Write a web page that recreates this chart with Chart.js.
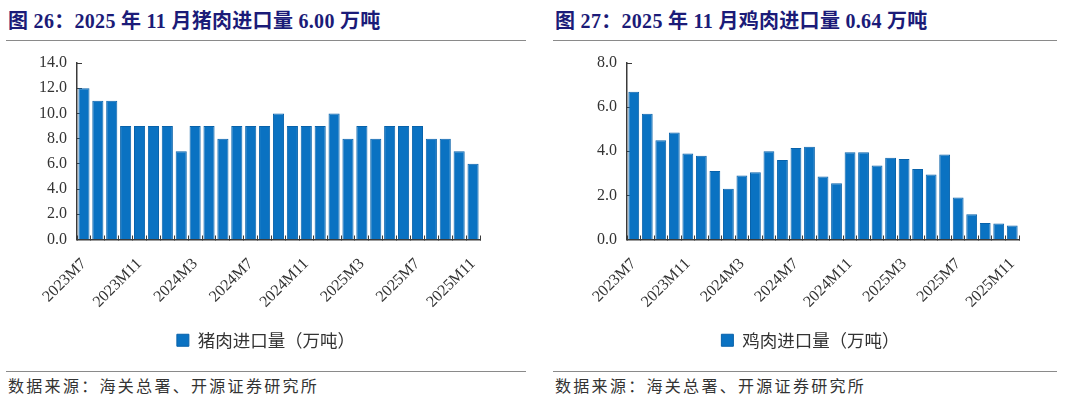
<!DOCTYPE html>
<html>
<head>
<meta charset="utf-8">
<script src="https://cdn.jsdelivr.net/npm/chart.js@4"></script>
<style>
  body { margin: 0; background: #fff; width: 1080px; height: 400px; position: relative; overflow: hidden; }
  .title { position: absolute; top: 5px; font-family: "Liberation Serif", "Noto Sans CJK SC", serif; font-weight: bold; font-size: 20px; letter-spacing: 0.3px; color: #1b1b78; white-space: nowrap; }
  .rule { position: absolute; height: 0; border-top: 1.5px solid #8a8a8a; }
  .src { position: absolute; top: 373px; font-family: "Noto Sans CJK SC", sans-serif; font-size: 16px; letter-spacing: 2.3px; color: #333; white-space: nowrap; }
  .box { position: absolute; top: 50px; height: 309px; }
</style>
</head>
<body>
<div class="title" style="left:8px">图 26：2025 年 11 月猪肉进口量 6.00 万吨</div>
<div class="title" style="left:555px">图 27：2025 年 11 月鸡肉进口量 0.64 万吨</div>
<div class="rule" style="left:6px; width:520px; top:40px"></div>
<div class="rule" style="left:553px; width:504px; top:40px"></div>
<div class="rule" style="left:6px; width:520px; top:371px"></div>
<div class="rule" style="left:553px; width:504px; top:371px"></div>
<div class="src" style="left:8px">数据来源：海关总署、开源证券研究所</div>
<div class="src" style="left:555px">数据来源：海关总署、开源证券研究所</div>
<div class="box" style="left:0px; width:530px"><canvas id="chartPork"></canvas></div>
<div class="box" style="left:548px; width:526px"><canvas id="chartChicken"></canvas></div>
<script>
// months 2023M7 .. 2025M11
const months = [
  "2023M7","2023M8","2023M9","2023M10","2023M11","2023M12",
  "2024M1","2024M2","2024M3","2024M4","2024M5","2024M6","2024M7","2024M8","2024M9","2024M10","2024M11","2024M12",
  "2025M1","2025M2","2025M3","2025M4","2025M5","2025M6","2025M7","2025M8","2025M9","2025M10","2025M11"
];
const porkImports = [12, 11, 11, 9, 9, 9, 9, 7, 9, 9, 8, 9, 9, 9, 10, 9, 9, 9, 10, 8, 9, 8, 9, 9, 9, 8, 8, 7, 6];
const chickenImports = [6.7, 5.7, 4.5, 4.85, 3.9, 3.8, 3.1, 2.3, 2.9, 3.05, 4.0, 3.6, 4.15, 4.2, 2.85, 2.55, 3.95, 3.95, 3.35, 3.7, 3.65, 3.2, 2.95, 3.85, 1.9, 1.15, 0.75, 0.72, 0.64];
const porkLabel = "猪肉进口量（万吨）";
const chickenLabel = "鸡肉进口量（万吨）";

const tickFont = { family: "Liberation Serif", size: 16 };
const axisColor = "#3a3a3a";

// nudge the legend sideways so it sits centred under the whole panel
const legendShift = {
  id: "legendShift",
  afterLayout(chart, args, opts) {
    const l = chart.legend;
    if (l && opts.dx) { l.left += opts.dx; l.right += opts.dx; }
  }
};

function makeChart(id, values, label, yMax, axisWidth, padRight, dx) {
  const ctx = document.getElementById(id).getContext("2d");
  return new Chart(ctx, {
    type: "bar",
    data: {
      labels: months,
      datasets: [{
        label: label,
        data: values,
        backgroundColor: "#0A72C2",
        borderColor: "#0862AA",
        borderWidth: 1,
        barPercentage: 0.8,
        categoryPercentage: 1.0
      }]
    },
    plugins: [legendShift],
    options: {
      responsive: true,
      maintainAspectRatio: false,
      animation: false,
      layout: { padding: { top: 13, right: padRight, left: 0, bottom: 0 } },
      scales: {
        x: {
          // tick marks point up into the plot, between the bars
          grid: { display: true, drawOnChartArea: false, drawTicks: true, tickLength: -4, color: axisColor, offset: true },
          border: { display: true, color: axisColor, width: 1.5 },
          ticks: {
            autoSkip: false,
            maxRotation: 45,
            minRotation: 45,
            color: "#333",
            font: tickFont,
            padding: 19,
            callback: function (val, idx) { return idx % 4 === 0 ? months[idx] : ""; }
          },
          afterFit: function (s) { s.height = 84; }
        },
        y: {
          min: 0,
          max: yMax,
          grid: { display: true, drawOnChartArea: false, drawTicks: true, tickLength: -5, color: axisColor },
          border: { display: true, color: axisColor, width: 1.5 },
          ticks: {
            stepSize: 2,
            color: "#333",
            font: tickFont,
            padding: 15,
            callback: function (v) { return v.toFixed(1); }
          },
          afterFit: function (s) { s.width = axisWidth; s.paddingTop = 0; s.paddingBottom = 0; }
        }
      },
      plugins: {
        legend: {
          position: "bottom",
          labels: {
            boxWidth: 12,
            boxHeight: 12,
            color: "#333",
            font: { family: "Noto Sans CJK SC", size: 17.5 },
            padding: 8
          }
        },
        legendShift: { dx: dx },
        tooltip: { enabled: false }
      }
    }
  });
}

window.chartPork = makeChart("chartPork", porkImports, porkLabel, 14, 77, 50, 26);
window.chartChicken = makeChart("chartChicken", chickenImports, chickenLabel, 8, 79, 55, 27);
</script>
</body>
</html>
